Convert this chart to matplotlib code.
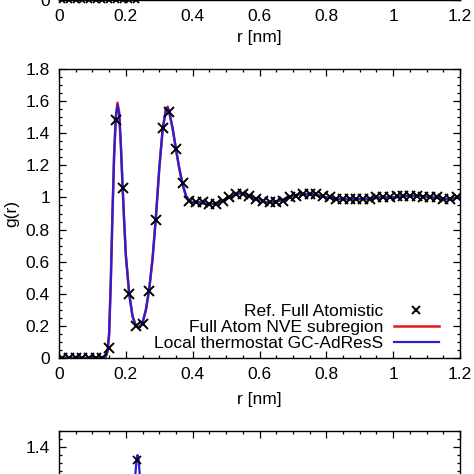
import matplotlib
matplotlib.use("Agg")
import matplotlib.pyplot as plt
from matplotlib.ticker import MultipleLocator, FuncFormatter

plt.rcParams['font.family'] = ['Liberation Sans', 'DejaVu Sans']

# ---------------- data ----------------
# reference full-atomistic RDF (markers)
r_ref = [0.01, 0.03, 0.05, 0.07, 0.09, 0.11, 0.13, 0.15, 0.17, 0.19,
         0.21, 0.23, 0.25, 0.27, 0.29, 0.31, 0.33, 0.35, 0.37, 0.39,
         0.41, 0.43, 0.45, 0.47, 0.49, 0.51, 0.53, 0.55, 0.57, 0.59,
         0.61, 0.63, 0.65, 0.67, 0.69, 0.71, 0.73, 0.75, 0.77, 0.79,
         0.81, 0.83, 0.85, 0.87, 0.89, 0.91, 0.93, 0.95, 0.97, 0.99,
         1.01, 1.03, 1.05, 1.07, 1.09, 1.11, 1.13, 1.15, 1.17, 1.19]
g_ref = [0.00, 0.00, 0.00, 0.00, 0.00, 0.00, 0.00, 0.06, 1.48, 1.06,
         0.40, 0.20, 0.21, 0.42, 0.86, 1.43, 1.53, 1.30, 1.09, 0.98,
         0.97, 0.97, 0.96, 0.96, 0.98, 1.00, 1.02, 1.02, 1.01, 0.99,
         0.98, 0.97, 0.97, 0.98, 1.00, 1.01, 1.02, 1.02, 1.02, 1.01,
         1.00, 0.99, 0.99, 0.99, 0.99, 0.99, 0.99, 1.00, 1.00, 1.00,
         1.01, 1.01, 1.01, 1.01, 1.00, 1.00, 1.00, 0.99, 0.99, 1.00]

# curves
r_line = [0.00, 0.10, 0.135, 0.14, 0.145, 0.15, 0.155, 0.16, 0.165, 0.17,
          0.175, 0.18, 0.185, 0.19, 0.195, 0.20, 0.21, 0.22, 0.23, 0.24,
          0.25, 0.26, 0.27, 0.28, 0.29, 0.30, 0.31, 0.32, 0.325, 0.33,
          0.34, 0.35, 0.36, 0.37, 0.38, 0.39, 0.40, 0.42, 0.44, 0.46,
          0.48, 0.50, 0.52, 0.54, 0.56, 0.58, 0.60, 0.62, 0.64, 0.66,
          0.68, 0.70, 0.72, 0.74, 0.76, 0.78, 0.80, 0.84, 0.88, 0.92,
          0.96, 1.00, 1.04, 1.08, 1.12, 1.16, 1.20]
g_nve = [0.00, 0.00, 0.00, 0.01, 0.04, 0.15, 0.48, 0.90, 1.27, 1.50,
         1.59, 1.53, 1.33, 1.08, 0.85, 0.64, 0.40, 0.26, 0.20, 0.19,
         0.22, 0.30, 0.43, 0.62, 0.88, 1.18, 1.42, 1.55, 1.565, 1.53,
         1.43, 1.30, 1.18, 1.08, 1.01, 0.98, 0.97, 0.97, 0.96, 0.96,
         0.97, 0.99, 1.01, 1.025, 1.02, 1.00, 0.985, 0.97, 0.97, 0.98,
         0.995, 1.01, 1.02, 1.02, 1.02, 1.01, 1.00, 0.99, 0.99, 0.99,
         1.00, 1.00, 1.01, 1.01, 1.00, 0.99, 1.00]
g_gc = [0.00, 0.00, 0.00, 0.01, 0.04, 0.15, 0.48, 0.90, 1.27, 1.50,
        1.575, 1.52, 1.33, 1.08, 0.85, 0.64, 0.40, 0.26, 0.20, 0.19,
        0.22, 0.30, 0.43, 0.62, 0.88, 1.18, 1.42, 1.55, 1.56, 1.53,
        1.43, 1.30, 1.18, 1.08, 1.01, 0.98, 0.97, 0.97, 0.96, 0.96,
        0.97, 0.99, 1.01, 1.025, 1.02, 1.00, 0.985, 0.97, 0.97, 0.98,
        0.995, 1.01, 1.02, 1.02, 1.02, 1.01, 1.00, 0.99, 0.99, 0.99,
        1.00, 1.00, 1.01, 1.01, 1.00, 0.99, 1.00]

# visible part of the panel above (only the zero region)
r_top = [0.01, 0.03, 0.05, 0.07, 0.09, 0.11, 0.13, 0.15, 0.17, 0.19, 0.21, 0.23]
g_top = [0.0] * len(r_top)

# visible part of the panel below (top of a peak)
r_bot_line = [0.222, 0.228, 0.232, 0.235, 0.238, 0.242, 0.248]
g_bot_line = [1.05, 1.22, 1.32, 1.35, 1.32, 1.22, 1.05]
r_bot_ref = [0.233]
g_bot_ref = [1.32]

xticks = [0, 0.2, 0.4, 0.6, 0.8, 1.0, 1.2]
labels = ['Ref. Full Atomistic', 'Full Atom NVE subregion', 'Local thermostat GC-AdResS']

RED = '#e01a1a'
BLUE = '#2a1fd6'
FS = 12.5

fmt = FuncFormatter(lambda v, p: '%g' % round(v, 3))


def style(ax, ymaj, ymin, yfmt=fmt):
    ax.set_xlim(0, 1.2)
    ax.set_xticks(xticks)
    ax.xaxis.set_minor_locator(MultipleLocator(0.05))
    ax.yaxis.set_major_locator(MultipleLocator(ymaj))
    ax.yaxis.set_minor_locator(MultipleLocator(ymin))
    ax.xaxis.set_major_formatter(fmt)
    ax.yaxis.set_major_formatter(yfmt)
    ax.tick_params(which='both', direction='in', top=True, right=True,
                   labelsize=FS, width=0.9)
    ax.tick_params(which='major', length=5, pad=6.5)
    ax.tick_params(which='minor', length=2.5)
    for s in ax.spines.values():
        s.set_linewidth(1.0)


fig = plt.figure(figsize=(4.74, 4.74), dpi=100)

# top (cropped) panel: only its bottom edge region is inside the picture
ax_top = fig.add_axes([0.1245, 1.0, 0.846, 0.6])
ax_top.plot(r_top, g_top, color=BLUE, lw=1.5, clip_on=False)
ax_top.plot(r_top, g_top, 'x', color='black', ms=5, mew=1.3, clip_on=False, ls='none')
style(ax_top, 0.2, 0.05,
      FuncFormatter(lambda v, p: '0' if abs(v) < 1e-9 else ''))
ax_top.set_ylim(0, 1.8)
ax_top.set_xlabel('r [nm]', fontsize=FS)

# main panel
ax = fig.add_axes([0.1245, 0.2447, 0.846, 0.6097])
ax.plot(r_ref, g_ref, 'x', color='black', ms=6.5, mew=1.4, ls='none', label=labels[0], zorder=3)
ax.plot(r_line, g_nve, color=RED, lw=1.8, label=labels[1], zorder=1)
ax.plot(r_line, g_gc, color=BLUE, lw=1.6, label=labels[2], zorder=2)
style(ax, 0.2, 0.05)
ax.set_ylim(0, 1.8)
ax.set_xlabel('r [nm]', fontsize=FS, labelpad=7)
ax.set_ylabel('g(r)', fontsize=FS, labelpad=5)
leg = ax.legend(loc='lower right', bbox_to_anchor=(0.9476, 0.025), frameon=False,
                markerfirst=False, fontsize=FS, handlelength=2.6, handletextpad=0.6,
                labelspacing=0.05, borderpad=0, borderaxespad=0, markerscale=0.8)

# bottom (cropped) panel: only its top edge region is inside the picture
ax_bot = fig.add_axes([0.1245, 0.0907 - 0.5084, 0.846, 0.5084])
ax_bot.plot(r_bot_line, g_bot_line, color=BLUE, lw=1.6)
ax_bot.plot(r_bot_ref, g_bot_ref, 'x', color='black', ms=6, mew=1.3, ls='none')
style(ax_bot, 0.2, 0.05,
      FuncFormatter(lambda v, p: '1.4' if abs(v - 1.4) < 1e-9 else ''))
ax_bot.set_ylim(0, 1.5)
ax_bot.tick_params(axis='x', labelbottom=False)

fig.savefig('out.png', dpi=100)
